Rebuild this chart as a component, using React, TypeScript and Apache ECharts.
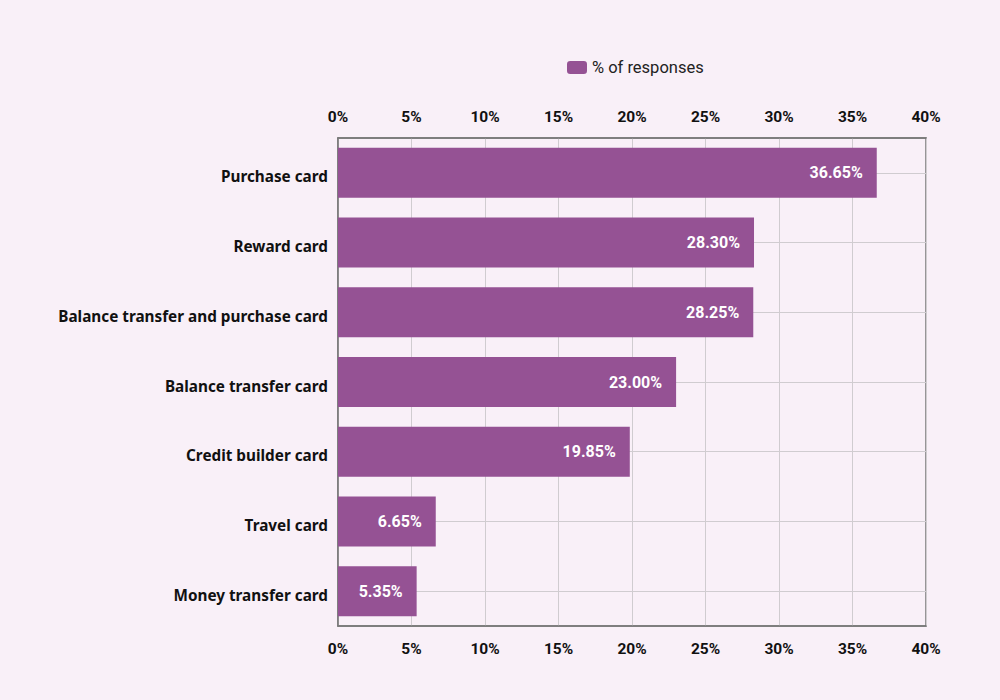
import React, { useEffect, useRef } from "react";
import * as echarts from "echarts";

const categories = [
  "Purchase card",
  "Reward card",
  "Balance transfer and purchase card",
  "Balance transfer card",
  "Credit builder card",
  "Travel card",
  "Money transfer card",
];
const values = [36.65, 28.3, 28.25, 23.0, 19.85, 6.65, 5.35];
const seriesName = "% of responses";

export default function App() {
  const ref = useRef<HTMLDivElement>(null);
  useEffect(() => {
    document.body.style.margin = "0";
    document.body.style.background = "#f9f0f8";
    if (!ref.current) return;
    const chart = echarts.init(ref.current, null, { renderer: "svg" });
    const tickLabel = {
      fontFamily: "Roboto",
      fontWeight: "bold" as const,
      fontSize: 15.5,
      color: "#111",
      formatter: (v: number) => `${v}%`,
    };
    const valueAxisBase = {
      type: "value" as const,
      min: 0,
      max: 40,
      interval: 5,
      axisLine: { show: true, lineStyle: { color: "#777", width: 1.5 } },
      axisTick: { show: false },
      splitLine: { show: true, lineStyle: { color: "#d0ccd0", width: 1 } },
    };
    chart.setOption({
      animation: false,
      backgroundColor: "#f9f0f8",
      legend: {
        top: 54,
        left: 562,
        itemWidth: 20,
        itemHeight: 13,
        itemGap: 6,
        textStyle: { fontFamily: "Roboto", fontSize: 16.5, color: "#222" },
        data: [{ name: seriesName, icon: "roundRect" }],
      },
      grid: {
        left: 338,
        right: 74,
        top: 138,
        bottom: 74,
        show: true,
        borderColor: "#777",
        borderWidth: 1.5,
        containLabel: false,
      },
      xAxis: [
        {
          ...valueAxisBase,
          position: "top",
          axisLabel: { ...tickLabel, margin: 13 },
        },
        {
          ...valueAxisBase,
          position: "bottom",
          axisLabel: { ...tickLabel, margin: 15 },
        },
      ],
      yAxis: {
        type: "category",
        data: categories,
        inverse: true,
        axisLine: { show: true, lineStyle: { color: "#777", width: 1.5 } },
        axisTick: { show: false, alignWithLabel: true },
        splitLine: {
          show: true,
          alignWithLabel: true,
          lineStyle: { color: "#d0ccd0", width: 1 },
        },
        axisLabel: {
          margin: 10,
          formatter: (v: string) => `{c|${v}}`,
          rich: {
            c: {
              fontFamily: "Noto Sans",
              fontWeight: "bold",
              fontSize: 15.3,
              color: "#111",
              padding: [7, 0, 0, 0],
            },
          },
        },
      },
      series: [
        {
          name: seriesName,
          type: "bar",
          xAxisIndex: 0,
          data: values,
          barWidth: 50,
          itemStyle: { color: "#955294" },
          label: {
            show: true,
            position: "insideRight",
            distance: 14,
            fontFamily: "Roboto",
            fontWeight: "bold",
            fontSize: 16,
            color: "#fff",
            formatter: (p: any) => `${p.value.toFixed(2)}%`,
          },
        },
      ],
    });
    return () => chart.dispose();
  }, []);
  return <div ref={ref} style={{ width: 1000, height: 700 }} />;
}
